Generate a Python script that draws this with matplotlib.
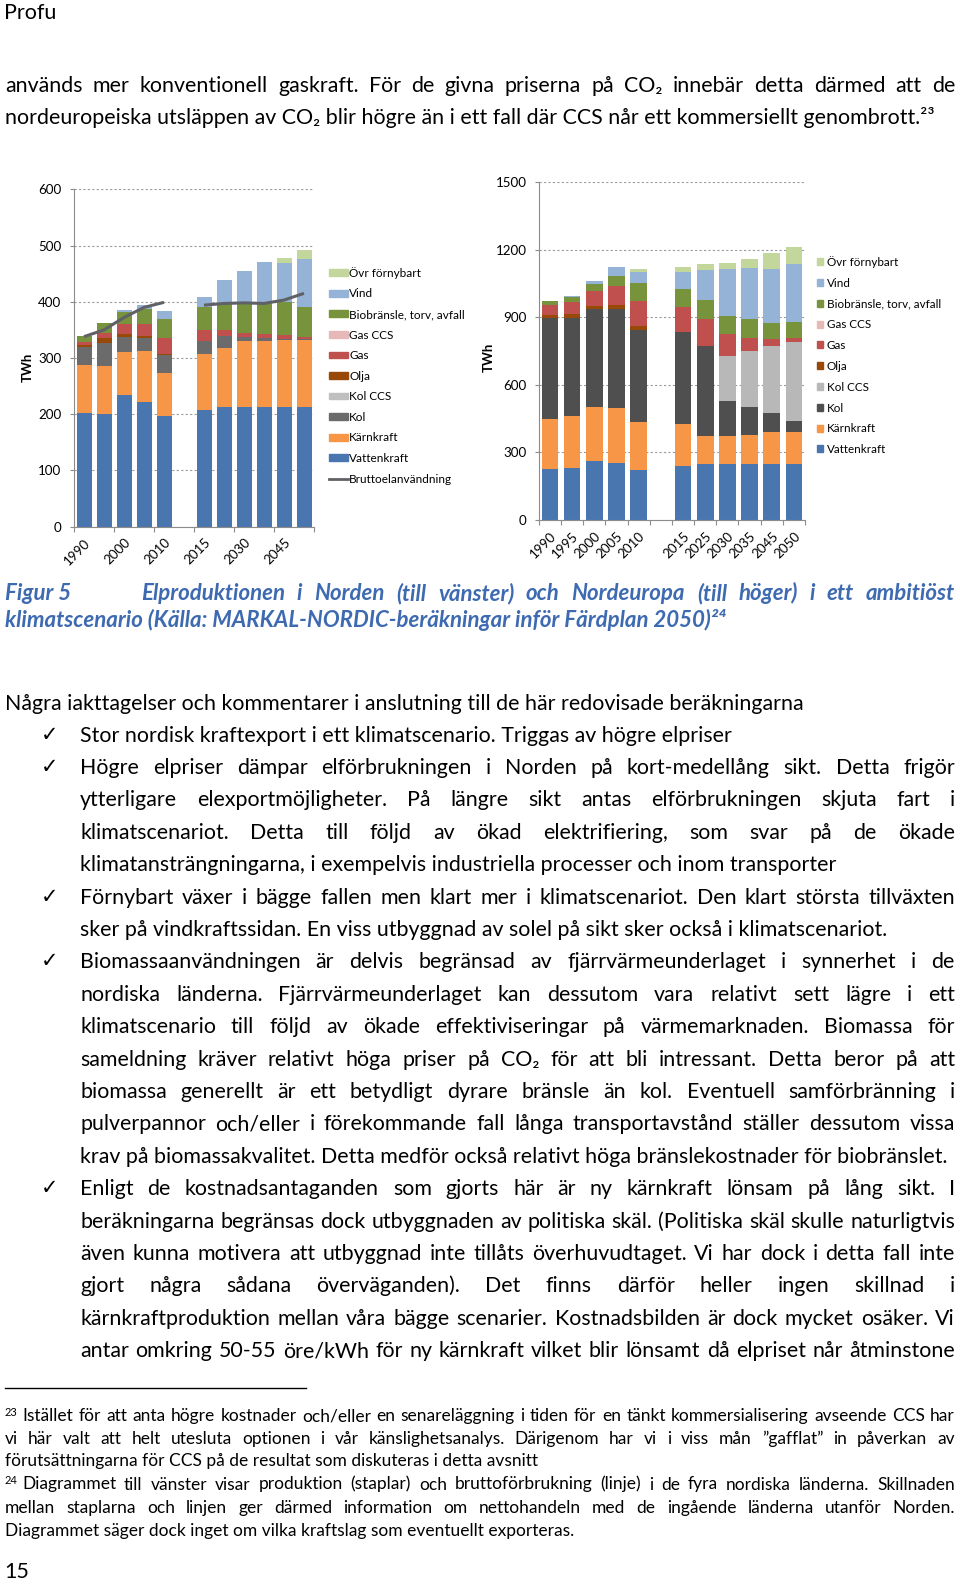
import matplotlib
matplotlib.use("Agg")
import matplotlib.pyplot as plt
from matplotlib.patches import Patch
from matplotlib.lines import Line2D
from matplotlib.font_manager import FontProperties
import numpy as np

plt.rcParams['font.family'] = ['Lato', 'DejaVu Sans']

W, H = 960, 1584

# ---- data ----
kategorier = ['1990', '1995', '2000', '2005', '2010', '', '2015', '2025', '2030', '2035', '2045', '2050']
etiketter_norden = ['1990', '', '2000', '', '2010', '', '2015', '', '2030', '', '2045', '']

serier = ['Vattenkraft', 'Kärnkraft', 'Kol', 'Kol CCS', 'Olja', 'Gas', 'Gas CCS',
          'Biobränsle, torv, avfall', 'Vind', 'Övr förnybart']
farger_norden = ['#4A76B0', '#F79646', '#6B6B6B', '#BFBFBF', '#984807', '#C0504D', '#E6B9B8',
                 '#77933C', '#95B3D7', '#C3D69B']
farger_europa = ['#4A76B0', '#F79646', '#4F4F4F', '#B8B8B8', '#984807', '#C0504D', '#E6B9B8',
                 '#77933C', '#95B3D7', '#C3D69B']

# Norden (TWh)
vatten_n = [203, 201, 234, 221, 196, 0, 208, 212, 212, 212, 212, 212]
karn_n = [84, 85, 76, 92, 78, 0, 100, 106, 119, 119, 120, 120]
kol_n = [33, 41, 28, 23, 31, 0, 22, 21, 7, 4, 2, 2]
kolccs_n = [0, 0, 0, 0, 0, 0, 0, 0, 0, 0, 0, 0]
olja_n = [3, 8, 5, 3, 3, 0, 0, 0, 0, 0, 0, 0]
gas_n = [5, 9, 17, 21, 27, 0, 20, 11, 6, 7, 7, 4]
gasccs_n = [0, 0, 0, 0, 0, 0, 0, 0, 0, 0, 0, 0]
bio_n = [11, 18, 21, 27, 35, 0, 40, 48, 54, 56, 58, 52]
vind_n = [0, 0, 5, 8, 14, 0, 19, 41, 57, 72, 70, 86]
ovr_n = [0, 0, 0, 0, 0, 0, 0, 0, 0, 0, 8, 16]
brutto_n = [338, 350, 372, 390, 399, np.nan, 394, 397, 398, 397, 403, 415]

# Nordeuropa (TWh)
vatten_e = [227, 230, 264, 252, 222, 0, 241, 247, 247, 247, 247, 247]
karn_e = [222, 234, 240, 247, 215, 0, 184, 128, 128, 131, 142, 142]
kol_e = [447, 435, 432, 438, 407, 0, 409, 400, 154, 125, 87, 52]
kolccs_e = [0, 0, 0, 0, 0, 0, 0, 0, 200, 247, 296, 351]
olja_e = [15, 15, 15, 18, 18, 0, 0, 0, 0, 0, 0, 0]
gas_e = [44, 54, 66, 86, 111, 0, 111, 118, 96, 59, 34, 15]
gasccs_e = [0, 0, 0, 0, 0, 0, 0, 0, 0, 0, 0, 0]
bio_e = [18, 24, 30, 44, 78, 0, 80, 84, 83, 86, 71, 71]
vind_e = [0, 5, 15, 37, 49, 0, 78, 133, 207, 226, 240, 258]
ovr_e = [0, 0, 0, 0, 15, 0, 22, 27, 25, 37, 67, 75]

norden = [vatten_n, karn_n, kol_n, kolccs_n, olja_n, gas_n, gasccs_n, bio_n, vind_n, ovr_n]
europa = [vatten_e, karn_e, kol_e, kolccs_e, olja_e, gas_e, gasccs_e, bio_e, vind_e, ovr_e]

fig = plt.figure(figsize=(W / 100, H / 100), dpi=100)
fig.patch.set_facecolor('white')
renderer = fig.canvas.get_renderer()


def stapeldiagram(rect, data, farger, ymax, steg, etiketter, tickstep):
    ax = fig.add_axes([rect[0] / W, 1 - rect[3] / H, (rect[2] - rect[0]) / W, (rect[3] - rect[1]) / H])
    x = np.arange(len(kategorier))
    botten = np.zeros(len(x))
    for varden, farg in zip(data, farger):
        ax.bar(x, varden, 0.75, bottom=botten, color=farg, linewidth=0)
        botten += np.array(varden, dtype=float)
    ax.set_xlim(-0.5, len(x) - 0.5)
    ax.set_ylim(0, ymax)
    ax.set_yticks(np.arange(0, ymax + 1, steg))
    ax.yaxis.grid(True, linestyle=(0, (2, 2)), color='#9A9A9A', linewidth=0.8)
    ax.set_axisbelow(True)
    for s in ['top', 'right']:
        ax.spines[s].set_visible(False)
    for s in ['left', 'bottom']:
        ax.spines[s].set_color('#8C8C8C')
        ax.spines[s].set_linewidth(0.8)
    ax.set_xticks(np.arange(-0.5, len(x), tickstep))
    ax.set_xticklabels([])
    ax.set_xticks(x, minor=True)
    ax.set_xticklabels(etiketter, minor=True, rotation=45, ha='right', rotation_mode='anchor', fontsize=9.6)
    ax.tick_params(axis='x', which='major', length=3.5, color='#8C8C8C', width=0.8)
    ax.tick_params(axis='x', which='minor', length=0, pad=7)
    ax.tick_params(axis='y', length=3, color='#8C8C8C', width=0.8, labelsize=9.6, pad=6)
    ax.set_ylabel('TWh', fontsize=9.5, fontweight='bold')
    return ax


ax1 = stapeldiagram((74, 189.3, 314, 526.7), norden, farger_norden, 600, 100, etiketter_norden, 2)
ax1.plot(np.arange(len(kategorier)), brutto_n, color='#5F6166', linewidth=2.2, solid_capstyle='butt')
ax1.yaxis.set_label_coords(-0.167, 0.473)

ax2 = stapeldiagram((538.9, 182.3, 805, 520), europa, farger_europa, 1500, 300, kategorier, 1)
ax2.yaxis.set_label_coords(-0.165, 0.483)

# legends
h1 = [Patch(color=c, label=n) for n, c in zip(serier, farger_norden)][::-1]
h1.append(Line2D([], [], color='#5F6166', linewidth=2, label='Bruttoelanvändning'))
fig.legend(handles=h1, loc='upper left', bbox_to_anchor=(329 / W, 1 - 267 / H), frameon=False,
           fontsize=8.5, handlelength=1.6, handleheight=0.5, handletextpad=0.12,
           labelspacing=0.81, borderpad=0, borderaxespad=0)
h2 = [Patch(color=c, label=n) for n, c in zip(serier, farger_europa)][::-1]
fig.legend(handles=h2, loc='upper left', bbox_to_anchor=(817 / W, 1 - 256 / H), frameon=False,
           fontsize=8.4, handlelength=0.55, handleheight=0.55, handletextpad=0.3,
           labelspacing=0.84, borderpad=0, borderaxespad=0)


# ---- text on the page ----
def familj(s):
    # fallback to DejaVu only where Lato lacks a glyph
    return ['Lato'] if all(ord(c) < 256 or c in '”' for c in s) else ['Lato', 'DejaVu Sans']


def rad(x0, y, text, size=15.4, x1=None, **kw):
    kw.setdefault('color', 'black')
    fp = FontProperties(family=['Lato'], size=size,
                        weight=kw.get('fontweight', 'normal'), style=kw.get('fontstyle', 'normal'))
    _, h, d = renderer.get_text_width_height_descent('lp', fp, ismath=False)
    yb = 1 - (y + h / 2 - d) / H
    if x1 is None:
        fig.text(x0 / W, yb, text, fontsize=size, va='baseline', ha='left', family=familj(text), **kw)
        return
    ord_ = text.split(' ')
    objs = [fig.text(0, yb, o, fontsize=size, va='baseline', ha='left', family=familj(o), **kw)
            for o in ord_]
    bredd = [t.get_window_extent(renderer).width for t in objs]
    mellan = (x1 - x0 - sum(bredd)) / max(len(ord_) - 1, 1)
    x = x0
    for t, b in zip(objs, bredd):
        t.set_x(x / W)
        x += b + mellan


rad(4, 13, 'Profu', size=15.5)
rad(5, 86, 'används mer konventionell gaskraft. För de givna priserna på CO₂ innebär detta därmed att de', x1=955)
rad(5, 118, 'nordeuropeiska utsläppen av CO₂ blir högre än i ett fall där CCS når ett kommersiellt genombrott.²³')

blue = '#3D6AB0'
rad(5, 594, 'Figur 5', size=16, color=blue, fontweight='bold', fontstyle='italic')
rad(141, 594, 'Elproduktionen i Norden (till vänster) och Nordeuropa (till höger) i ett ambitiöst', size=16, x1=955,
    color=blue, fontweight='bold', fontstyle='italic')
rad(5, 621, 'klimatscenario (Källa: MARKAL-NORDIC-beräkningar inför Färdplan 2050)²⁴', size=16,
    color=blue, fontweight='bold', fontstyle='italic')

rad(5, 704, 'Några iakttagelser och kommentarer i anslutning till de här redovisade beräkningarna')

punkter = [
    (True, False, 'Stor nordisk kraftexport i ett klimatscenario. Triggas av högre elpriser'),
    (True, True, 'Högre elpriser dämpar elförbrukningen i Norden på kort-medellång sikt. Detta frigör'),
    (False, True, 'ytterligare elexportmöjligheter. På längre sikt antas elförbrukningen skjuta fart i'),
    (False, True, 'klimatscenariot. Detta till följd av ökad elektrifiering, som svar på de ökade'),
    (False, False, 'klimatansträngningarna, i exempelvis industriella processer och inom transporter'),
    (True, True, 'Förnybart växer i bägge fallen men klart mer i klimatscenariot. Den klart största tillväxten'),
    (False, False, 'sker på vindkraftssidan. En viss utbyggnad av solel på sikt sker också i klimatscenariot.'),
    (True, True, 'Biomassaanvändningen är delvis begränsad av fjärrvärmeunderlaget i synnerhet i de'),
    (False, True, 'nordiska länderna. Fjärrvärmeunderlaget kan dessutom vara relativt sett lägre i ett'),
    (False, True, 'klimatscenario till följd av ökade effektiviseringar på värmemarknaden. Biomassa för'),
    (False, True, 'sameldning kräver relativt höga priser på CO₂ för att bli intressant. Detta beror på att'),
    (False, True, 'biomassa generellt är ett betydligt dyrare bränsle än kol. Eventuell samförbränning i'),
    (False, True, 'pulverpannor och/eller i förekommande fall långa transportavstånd ställer dessutom vissa'),
    (False, False, 'krav på biomassakvalitet. Detta medför också relativt höga bränslekostnader för biobränslet.'),
    (True, True, 'Enligt de kostnadsantaganden som gjorts här är ny kärnkraft lönsam på lång sikt. I'),
    (False, True, 'beräkningarna begränsas dock utbyggnaden av politiska skäl. (Politiska skäl skulle naturligtvis'),
    (False, True, 'även kunna motivera att utbyggnad inte tillåts överhuvudtaget. Vi har dock i detta fall inte'),
    (False, True, 'gjort några sådana överväganden). Det finns därför heller ingen skillnad i'),
    (False, True, 'kärnkraftproduktion mellan våra bägge scenarier. Kostnadsbilden är dock mycket osäker. Vi'),
    (False, True, 'antar omkring 50-55 öre/kWh för ny kärnkraft vilket blir lönsamt då elpriset når åtminstone'),
]
for i, (bock, just, txt) in enumerate(punkter):
    y = 735.6 + 32.4 * i
    if bock:
        rad(41, y - 1, '✓', size=15)
    rad(80, y, txt, x1=955 if just else None)

fig.add_artist(Line2D([5 / W, 306 / W], [1 - 1388 / H, 1 - 1388 / H], color='black', linewidth=1))

fs = 12.5
rad(5, 1412, '23', size=8)
rad(22, 1416, 'Istället för att anta högre kostnader och/eller en senareläggning i tiden för en tänkt kommersialisering avseende CCS har',
    size=fs, x1=955)
rad(5, 1439, 'vi här valt att helt utesluta optionen i vår känslighetsanalys. Därigenom har vi i viss mån ”gafflat” in påverkan av',
    size=fs, x1=955)
rad(5, 1461, 'förutsättningarna för CCS på de resultat som diskuteras i detta avsnitt', size=fs)
rad(5, 1480, '24', size=8)
rad(22, 1484.5, 'Diagrammet till vänster visar produktion (staplar) och bruttoförbrukning (linje) i de fyra nordiska länderna. Skillnaden',
    size=fs, x1=955)
rad(5, 1508, 'mellan staplarna och linjen ger därmed information om nettohandeln med de ingående länderna utanför Norden.',
    size=fs, x1=955)
rad(5, 1531, 'Diagrammet säger dock inget om vilka kraftslag som eventuellt exporteras.', size=fs)
rad(4, 1572, '15', size=15.5)

fig.savefig('out.png', dpi=100, facecolor='white')
